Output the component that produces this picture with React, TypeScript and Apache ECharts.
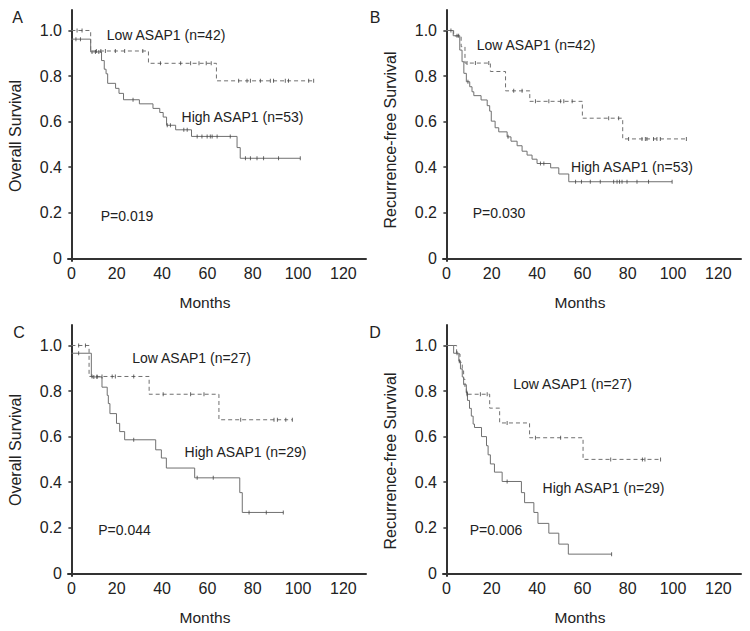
import React, { useEffect, useRef } from "react";
import * as echarts from "echarts";

// ---------- data (months, survival) ----------
const xTicks = [0, 20, 40, 60, 80, 100, 120];
const yTicks = [0, 0.2, 0.4, 0.6, 0.8, 1.0];

// Panel A – Overall survival, cohort 1
const aLowT = [0, 8.5, 34, 64, 107];
const aLowS = [1.0, 0.91, 0.856, 0.779, 0.779];
const aLowC = [2.5, 4.7, 11, 13, 15, 19.4, 23.5, 31.5, 39.3, 48.2, 52.6, 56.3, 59.5, 61.7, 73.8, 77.5, 79, 83.4, 87.8, 89.2, 94.4, 95.8, 104.7, 106.9];
const aHighT = [0, 8.5, 13.3, 14.5, 15.3, 16, 19.5, 21, 23, 30, 36, 39, 40.5, 42, 46, 53, 73.1, 74.5, 101];
const aHighS = [0.962, 0.906, 0.868, 0.83, 0.81, 0.768, 0.746, 0.724, 0.696, 0.678, 0.658, 0.64, 0.62, 0.584, 0.564, 0.535, 0.486, 0.439, 0.439];
const aHighC = [2, 4, 9.1, 10.6, 12.1, 27.2, 42.3, 43.7, 49.6, 51.1, 55.5, 57.6, 59.9, 61.3, 62.1, 64.3, 70.1, 76.8, 79, 81.9, 84.8, 91.4, 101];

// Panel B – Recurrence-free survival, cohort 1
const bLowT = [0, 3.2, 6.5, 8.2, 19.4, 26.1, 36.8, 60, 77.8, 105.9];
const bLowS = [1.0, 0.976, 0.929, 0.857, 0.82, 0.735, 0.689, 0.615, 0.524, 0.524];
const bLowC = [2, 9.1, 12.8, 18.7, 29.7, 33.4, 39.3, 45.2, 50.4, 51.8, 55.5, 71.6, 76, 80.4, 86.3, 87.8, 88.5, 91.4, 92.9, 94.4, 105.9];
const bHighT = [0, 3, 5.9, 6.9, 7.7, 8.8, 10.3, 11.3, 12.1, 15.3, 18, 19.1, 19.8, 21.5, 23.1, 26.8, 28.5, 31.2, 33.4, 35.6, 37.8, 40, 46, 49.6, 54, 99.6];
const bHighS = [1.0, 0.977, 0.914, 0.863, 0.812, 0.775, 0.753, 0.731, 0.714, 0.695, 0.67, 0.646, 0.602, 0.573, 0.555, 0.533, 0.514, 0.494, 0.47, 0.453, 0.435, 0.416, 0.397, 0.37, 0.336, 0.336];
const bHighC = [4.7, 5.4, 9.5, 27.2, 41.5, 43, 57, 59.6, 63.5, 67.9, 73.8, 75.3, 76.4, 77.5, 79.7, 84.1, 89.2, 99.6];

// Panel C – Overall survival, cohort 2
const cLowT = [0, 7.8, 34.3, 65.1, 97.5];
const cLowS = [1.0, 0.864, 0.786, 0.674, 0.674];
const cLowC = [3.2, 6.2, 9.1, 11.3, 13.5, 18, 19.4, 27.5, 40.5, 52.6, 58.5, 74.7, 89.4, 90.9, 94.6, 97.5];
const cHighT = [0, 8.8, 13.5, 15.8, 16.3, 17, 19.9, 21.3, 23.5, 37.2, 39.7, 41.9, 54.4, 74.3, 75.4, 93.5];
const cHighS = [0.966, 0.862, 0.817, 0.781, 0.745, 0.701, 0.658, 0.622, 0.586, 0.542, 0.506, 0.462, 0.419, 0.354, 0.267, 0.267];
const cHighC = [3.2, 9.9, 11.3, 27.5, 55.5, 62.6, 78.4, 86, 93.5];

// Panel D – Recurrence-free survival, cohort 2
const dLowT = [0, 4.5, 6, 7, 7.6, 8.2, 8.8, 19.1, 23.5, 36.7, 60.3, 94.5];
const dLowS = [1.0, 0.963, 0.926, 0.889, 0.852, 0.815, 0.786, 0.725, 0.66, 0.595, 0.5, 0.5];
const dLowC = [9.1, 15, 18, 26.8, 39.3, 50.4, 72.5, 86.5, 87.6, 94.5];
const dHighT = [0, 3.2, 5.5, 6.2, 7.0, 7.6, 8.8, 9.3, 10.2, 11.0, 11.8, 12.4, 15.5, 17.7, 18.4, 19.4, 21.2, 24.6, 33.1, 34.5, 38.6, 40.4, 45.2, 49.6, 53.8, 72.9];
const dHighS = [1.0, 0.966, 0.931, 0.897, 0.862, 0.828, 0.793, 0.759, 0.724, 0.69, 0.655, 0.64, 0.6, 0.56, 0.52, 0.48, 0.444, 0.403, 0.354, 0.31, 0.267, 0.219, 0.176, 0.128, 0.084, 0.084];
const dHighC = [4.7, 5.7, 9.1, 26.8, 72.9];

const panelLetters = ["A", "B", "C", "D"];
const yTitles = ["Overall Survival", "Recurrence-free Survival", "Overall Survival", "Recurrence-free Survival"];
const lowLabels = ["Low ASAP1 (n=42)", "Low ASAP1 (n=42)", "Low ASAP1 (n=27)", "Low ASAP1 (n=27)"];
const highLabels = ["High ASAP1 (n=53)", "High ASAP1 (n=53)", "High ASAP1 (n=29)", "High ASAP1 (n=29)"];
const pValues = ["P=0.019", "P=0.030", "P=0.044", "P=0.006"];
const xTitle = "Months";

const FONT = "'Liberation Sans', Arial, Helvetica, sans-serif";
const AXIS = "#333";
const CURVE = "#707070";

function pairs(t: number[], s: number[]) {
  return t.map((v, i) => [v, s[i]]);
}
function stepAt(t: number[], s: number[], x: number) {
  let v = s[0];
  for (let i = 0; i < t.length; i++) if (t[i] <= x) v = s[i];
  return v;
}
function censor(t: number[], s: number[], c: number[]) {
  return c.map((x) => [x, stepAt(t, s, x)]);
}

export default function App() {
  const ref = useRef<HTMLDivElement>(null);
  useEffect(() => {
    if (!ref.current) return;
    const chart = echarts.init(ref.current, null, { renderer: "svg" });

    const panels = [
      { lt: aLowT, ls: aLowS, lc: aLowC, ht: aHighT, hs: aHighS, hc: aHighC },
      { lt: bLowT, ls: bLowS, lc: bLowC, ht: bHighT, hs: bHighS, hc: bHighC },
      { lt: cLowT, ls: cLowS, lc: cLowC, ht: cHighT, hs: cHighS, hc: cHighC },
      { lt: dLowT, ls: dLowS, lc: dLowC, ht: dHighT, hs: dHighS, hc: dHighC },
    ];
    const grids = [
      { left: 68, top: 10, width: 298, height: 251 },
      { left: 443, top: 10, width: 298, height: 251 },
      { left: 68, top: 325, width: 298, height: 251 },
      { left: 443, top: 325, width: 298, height: 251 },
    ];

    const xAxis = grids.map((_, i) => ({
      type: "value",
      gridIndex: i,
      min: -1.5,
      max: 130,
      axisLine: { show: true, lineStyle: { color: AXIS, width: 2 } },
      axisTick: { show: false, customValues: xTicks },
      axisLabel: {
        customValues: xTicks,
        fontFamily: FONT,
        fontSize: 16,
        color: "#222",
        margin: 4,
      },
      splitLine: { show: false },
    }));
    const yAxis = grids.map((_, i) => ({
      type: "value",
      gridIndex: i,
      min: -0.012,
      max: 1.09,
      axisLine: { show: true, lineStyle: { color: AXIS, width: 2 } },
      axisTick: { show: true, customValues: yTicks, length: 3, lineStyle: { color: AXIS, width: 1.5 } },
      axisLabel: {
        customValues: yTicks,
        fontFamily: FONT,
        fontSize: 16,
        color: "#222",
        margin: 6,
        formatter: (v: number) => (Math.abs(v) < 1e-9 ? "0" : v.toFixed(1)),
      },
      splitLine: { show: false },
    }));

    const series: any[] = [];
    panels.forEach((p, i) => {
      series.push({
        type: "line",
        xAxisIndex: i,
        yAxisIndex: i,
        step: "end",
        symbol: "none",
        data: pairs(p.lt, p.ls),
        lineStyle: { color: CURVE, width: 1, type: [4, 3] },
        z: 3,
      });
      series.push({
        type: "line",
        xAxisIndex: i,
        yAxisIndex: i,
        step: "end",
        symbol: "none",
        data: pairs(p.ht, p.hs),
        lineStyle: { color: CURVE, width: 1 },
        z: 3,
      });
      series.push({
        type: "scatter",
        xAxisIndex: i,
        yAxisIndex: i,
        symbol: "rect",
        symbolSize: [1, 4],
        itemStyle: { color: "#444" },
        data: censor(p.lt, p.ls, p.lc),
        z: 4,
      });
      series.push({
        type: "scatter",
        xAxisIndex: i,
        yAxisIndex: i,
        symbol: "rect",
        symbolSize: [1, 4],
        itemStyle: { color: "#444" },
        data: censor(p.ht, p.hs, p.hc),
        z: 4,
      });
    });

    const letterPos = [[17.5, 17], [375, 17], [19, 332], [375, 332]];
    const yTitlePos = [[15, 136], [390, 140], [15.5, 450], [390, 461]];
    const xTitlePos = [[205, 302], [580, 302], [205, 617], [580, 617]];
    const lowPos = [[166, 35], [536, 45], [191.5, 358], [572.5, 384]];
    const highPos = [[242.5, 117], [632, 167], [245.5, 452], [603.5, 488]];
    const pPos = [[127, 216], [499, 213], [124.5, 530], [496, 530]];

    const txt = (text: string, pos: number[], size: number, rot = 0) => ({
      type: "text",
      x: pos[0],
      y: pos[1],
      rotation: rot,
      style: {
        text,
        fill: "#222",
        font: `${size}px ${FONT}`,
        align: "center",
        verticalAlign: "middle",
      },
      z: 10,
    });

    const graphic: any[] = [];
    for (let i = 0; i < 4; i++) {
      graphic.push(txt(panelLetters[i], letterPos[i], 16));
      graphic.push(txt(yTitles[i], yTitlePos[i], 16, Math.PI / 2));
      graphic.push(txt(xTitle, xTitlePos[i], 15.5));
      graphic.push(txt(lowLabels[i], lowPos[i], 14));
      graphic.push(txt(highLabels[i], highPos[i], 14));
      graphic.push(txt(pValues[i], pPos[i], 14));
    }

    chart.setOption({
      animation: false,
      backgroundColor: "#fff",
      grid: grids.map((g) => ({ ...g, containLabel: false })),
      xAxis,
      yAxis,
      series,
      graphic,
    });
    return () => chart.dispose();
  }, []);

  return <div ref={ref} style={{ width: 750, height: 631, position: "absolute", left: 0, top: 0 }} />;
}
